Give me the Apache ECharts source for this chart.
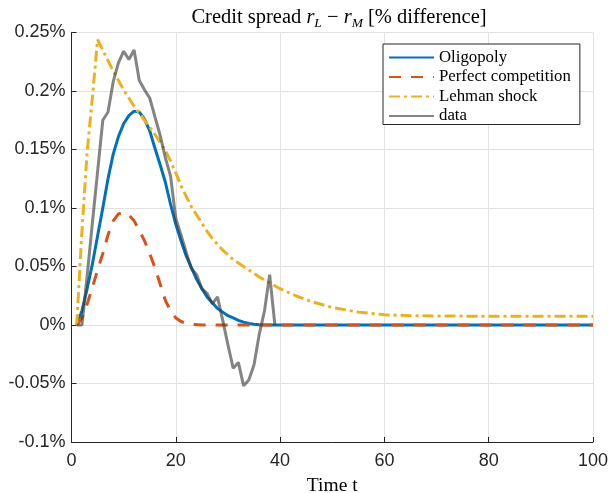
<!DOCTYPE html>
<html>
<head>
<meta charset="utf-8">
<script src="https://cdn.jsdelivr.net/npm/echarts@6/dist/echarts.min.js"></script>
<style>
html,body{margin:0;padding:0;background:#fff;}
#chart{width:610px;height:493px;}
</style>
</head>
<body>
<div id="chart"></div>
<script>
// ---- data (values in % difference) ----
const seriesNames = ['Oligopoly', 'Perfect competition', 'Lehman shock', 'data'];

const oligopolyT = [1,2,3,4,5,6,7,8,9,10,11,12,13,14,15,16,17,18,19,20,21,22,23,24,25,26,27,28,29,30,31,32,33,34,35,36,38,40,100];
const oligopolyV = [0,0.012,0.031,0.052,0.076,0.100,0.125,0.146,0.161,0.172,0.179,0.1828,0.182,0.176,0.166,0.151,0.137,0.122,0.103,0.086,0.072,0.059,0.049,0.039,0.031,0.024,0.019,0.014,0.011,0.008,0.006,0.004,0.0025,0.0013,0.0007,0.0003,0,0,0];

const perfectT = [1,2,3,4,5,6,7,8,9,10,11,12,13,14,15,16,17,18,19,20,21,22,23,25,100];
const perfectV = [0,0.006,0.018,0.032,0.047,0.061,0.077,0.089,0.095,0.096,0.094,0.089,0.081,0.072,0.061,0.049,0.035,0.021,0.012,0.006,0.003,0.0015,0.0005,0,0];

const lehmanT = [1,2,3,4,5,6,7,8,9,10,11,12,13,14,15,16,17,18,19,20,21,22,23,24,25,26,27,28,29,30,31,32,34,36,38,40,43,46,50,55,60,65,70,80,100];
const lehmanV = [0,0.08,0.148,0.194,0.244,0.235,0.226,0.217,0.209,0.201,0.194,0.187,0.181,0.175,0.169,0.163,0.156,0.149,0.140,0.130,0.119,0.110,0.101,0.094,0.087,0.080,0.074,0.069,0.064,0.060,0.056,0.053,0.047,0.041,0.036,0.031,0.025,0.020,0.015,0.011,0.0088,0.008,0.0077,0.0075,0.0075];

const dataT = [1,2,3,4,5,6,7,8,9,10,11,12,13,14,15,16,17,18,19,20,21,22,23,24,25,26,27,28,29,30,31,32,33,34,35,36,37,38,39];
const dataV = [0,0,0.042,0.087,0.131,0.175,0.182,0.208,0.224,0.234,0.227,0.235,0.209,0.201,0.194,0.178,0.162,0.143,0.127,0.091,0.077,0.062,0.048,0.043,0.031,0.027,0.018,0.024,0.004,-0.017,-0.037,-0.032,-0.052,-0.047,-0.034,-0.008,0.012,0.043,0];

const xTicks = [0, 20, 40, 60, 80, 100];
const yTicks = [-0.1, -0.05, 0, 0.05, 0.1, 0.15, 0.2, 0.25];

function pairs(t, v) { return t.map((x, i) => [x, v[i]]); }

const chart = echarts.init(document.getElementById('chart'), null, {renderer: 'canvas'});
const serif = '"Liberation Serif", "DejaVu Serif", serif';
const sans = '"Liberation Sans", Arial, sans-serif';

const option = {
  animation: false,
  backgroundColor: '#ffffff',
  title: {
    text: '{a|Credit spread }{i|r}{s|L}{a| − }{i|r}{s|M}{a| [% difference]}',
    left: 334,
    textAlign: 'center',
    top: 0,
    textStyle: {
      fontWeight: 'normal',
      rich: {
        a: {fontFamily: serif, fontSize: 20.5, fontWeight: 'normal', color: '#000'},
        i: {fontFamily: serif, fontSize: 20.5, fontStyle: 'italic', fontWeight: 'normal', color: '#000'},
        s: {fontFamily: serif, fontSize: 13.5, fontStyle: 'italic', fontWeight: 'normal', color: '#000', padding: [11, 0, 0, 0]}
      }
    }
  },
  legend: {
    data: seriesNames,
    orient: 'vertical',
    left: 383,
    top: 44,
    itemWidth: 45,
    itemHeight: 14,
    itemGap: 2.5,
    padding: [5, 9, 0, 5],
    borderColor: '#262626',
    borderWidth: 1,
    backgroundColor: '#ffffff',
    itemStyle: {opacity: 0},
    textStyle: {fontFamily: serif, fontSize: 16.8, lineHeight: 16, color: '#000'}
  },
  grid: {left: 71.5, right: 17, top: 32.5, bottom: 51, containLabel: false, outerBoundsMode: 'none'},
  xAxis: {
    type: 'value',
    min: 0, max: 100, interval: 20,
    name: 'Time t',
    nameLocation: 'middle',
    nameGap: 34,
    nameTextStyle: {fontFamily: serif, fontSize: 19.5, color: '#000'},
    axisLine: {show: true, onZero: false, lineStyle: {color: '#262626', width: 1}},
    axisTick: {show: true, inside: true, length: 5, lineStyle: {color: '#262626'}},
    axisLabel: {fontFamily: sans, fontSize: 18, color: '#262626', margin: 10,
      formatter: v => xTicks.includes(Math.round(v)) ? String(Math.round(v)) : ''},
    splitLine: {show: true, lineStyle: {color: '#e2e2e2', width: 1}}
  },
  yAxis: {
    type: 'value',
    min: -0.1, max: 0.25, interval: 0.05,
    axisLine: {show: true, onZero: false, lineStyle: {color: '#262626', width: 1}},
    axisTick: {show: true, inside: true, length: 5, lineStyle: {color: '#262626'}},
    axisLabel: {fontFamily: sans, fontSize: 18, color: '#262626', margin: 6,
      formatter: v => {
        const r = Math.round(v * 100) / 100;
        const t = yTicks.find(k => Math.abs(k - r) < 1e-9);
        return (t === undefined ? r : t) + '%';
      }},
    splitLine: {show: true, lineStyle: {color: '#e2e2e2', width: 1}}
  },
  series: [
    {
      name: seriesNames[0], type: 'line', symbol: 'none', smooth: false,
      data: pairs(oligopolyT, oligopolyV),
      lineStyle: {color: '#0072BD', width: 3, type: 'solid'},
      itemStyle: {color: '#0072BD'}
    },
    {
      name: seriesNames[1], type: 'line', symbol: 'none',
      data: pairs(perfectT, perfectV),
      lineStyle: {color: '#D95319', width: 3, type: [12, 10]},
      itemStyle: {color: '#D95319'}
    },
    {
      name: seriesNames[2], type: 'line', symbol: 'none',
      data: pairs(lehmanT, lehmanV),
      lineStyle: {color: '#EDB120', width: 3, type: [11, 4, 3, 4]},
      itemStyle: {color: '#EDB120'}
    },
    {
      name: seriesNames[3], type: 'line', symbol: 'none',
      data: pairs(dataT, dataV),
      lineStyle: {color: 'rgba(60,60,60,0.63)', width: 3, type: 'solid'},
      itemStyle: {color: 'rgba(60,60,60,0.63)'}
    }
  ]
};
chart.setOption(option);
</script>
</body>
</html>
